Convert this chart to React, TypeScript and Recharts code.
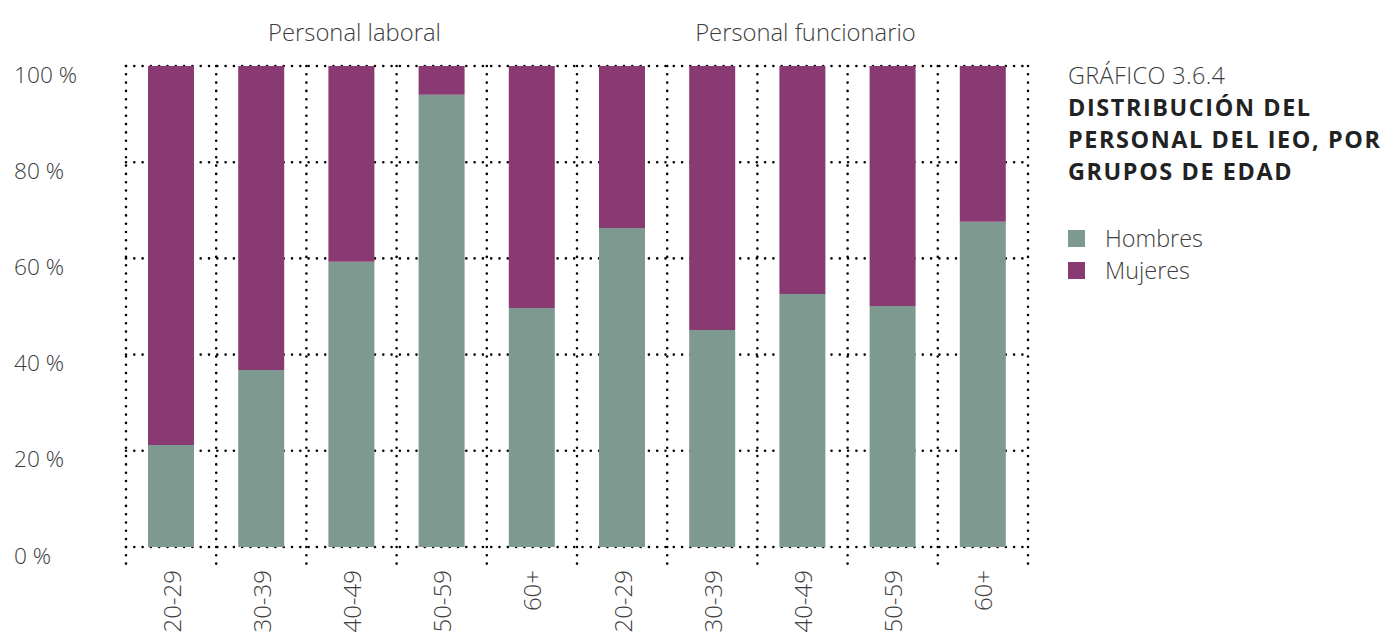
import React from "react";
import { BarChart, Bar, XAxis, YAxis, CartesianGrid } from "recharts";

const categories = ["20-29", "30-39", "40-49", "50-59", "60+", "20-29", "30-39", "40-49", "50-59", "60+"];
const groups = [
  "Personal laboral", "Personal laboral", "Personal laboral", "Personal laboral", "Personal laboral",
  "Personal funcionario", "Personal funcionario", "Personal funcionario", "Personal funcionario", "Personal funcionario",
];
const hombres = [21.2, 36.8, 59.3, 94.0, 49.7, 66.3, 45.1, 52.6, 50.1, 67.6];
const mujeres = [78.8, 63.2, 40.7, 6.0, 50.3, 33.7, 54.9, 47.4, 49.9, 32.4];
const yTicks = [0, 20, 40, 60, 80, 100];
const groupLabelIndex = [2, 7];

const seriesNames = { hombres: "Hombres", mujeres: "Mujeres" };
const COLORS = { hombres: "#7E998F", mujeres: "#893A72" };

const data = categories.map((c, i) => ({
  key: groups[i] + " " + c,
  age: c,
  group: groups[i],
  hombres: hombres[i],
  mujeres: mujeres[i],
}));

const FONT = "'Open Sans', 'DejaVu Sans', sans-serif";
const TEXT = "#3d3d3d";
const DOT = { stroke: "#000", strokeWidth: 2.6, strokeDasharray: "0 8.3", strokeLinecap: "round" as const };

const XTick = (props: any) => {
  const { x, y, payload, index, visibleTicksCount, width } = props;
  const half = payload && payload.offset ? payload.offset : width / (visibleTicksCount || 10) / 2;
  const last = index === categories.length - 1;
  return (
    <g>
      <line x1={x - half} x2={x - half} y1={y} y2={y + 17} {...DOT} />
      {last && <line x1={x + half} x2={x + half} y1={y} y2={y + 17} {...DOT} />}
      <text
        x={x}
        y={y + 23}
        transform={`rotate(-90, ${x}, ${y + 23})`}
        textAnchor="end"
        dominantBaseline="central"
        fontFamily={FONT}
        fontWeight={300}
        fontSize={24}
        fill={TEXT}
      >
        {categories[index]}
      </text>
    </g>
  );
};

const TopTick = (props: any) => {
  const { x, y, index } = props;
  if (!groupLabelIndex.includes(index)) return <g />;
  return (
    <text
      x={x + 3}
      y={y - 34}
      textAnchor="middle"
      dominantBaseline="central"
      fontFamily={FONT}
      fontWeight={300}
      fontSize={23.8}
      fill={TEXT}
    >
      {groups[index]}
    </text>
  );
};

const YTick = (props: any) => {
  const { y, payload } = props;
  return (
    <text
      x={6}
      y={y + 8}
      textAnchor="start"
      dominantBaseline="central"
      fontFamily={FONT}
      fontWeight={300}
      fontSize={22.7}
      fill={TEXT}
    >
      {payload.value} %
    </text>
  );
};

const titleBold = { fontWeight: 700, fontSize: 23.4, letterSpacing: "1.6px", height: 32 };

export default function App() {
  return (
    <div style={{ position: "relative", width: 1375, height: 625 }}>
      <BarChart
        width={1375}
        height={625}
        data={data}
        margin={{ top: 0, right: 355, bottom: 0, left: 0 }}
        barSize={46}
      >
        <CartesianGrid
          {...DOT}
          verticalCoordinatesGenerator={({ offset }: any) =>
            Array.from({ length: categories.length + 1 }, (_, i) => offset.left + (i * offset.width) / categories.length)
          }
        />
        <XAxis
          xAxisId="top"
          orientation="top"
          dataKey="key"
          height={58}
          axisLine={false}
          tickLine={false}
          tickSize={0}
          tickMargin={0}
          interval={0}
          tick={<TopTick />}
        />
        <XAxis
          dataKey="key"
          height={86}
          axisLine={false}
          tickLine={false}
          tickSize={0}
          tickMargin={0}
          interval={0}
          tick={<XTick />}
        />
        <YAxis
          width={118}
          domain={[0, 100]}
          ticks={yTicks}
          axisLine={false}
          tickLine={false}
          tick={<YTick />}
        />
        <Bar dataKey="hombres" stackId="a" fill={COLORS.hombres} isAnimationActive={false} name={seriesNames.hombres} />
        <Bar dataKey="mujeres" stackId="a" fill={COLORS.mujeres} isAnimationActive={false} name={seriesNames.mujeres} />
      </BarChart>
      <div
        style={{
          position: "absolute",
          left: 1060,
          top: 51,
          fontFamily: FONT,
          lineHeight: "32px",
          color: "#222",
          whiteSpace: "nowrap",
        }}
      >
        <div style={{ fontWeight: 300, fontSize: 23.4, letterSpacing: "0.4px", color: TEXT, height: 32 }}>GRÁFICO 3.6.4</div>
        <div style={titleBold}>DISTRIBUCIÓN DEL</div>
        <div style={titleBold}>PERSONAL DEL IEO, POR</div>
        <div style={titleBold}>GRUPOS DE EDAD</div>
      </div>
      <div
        style={{
          position: "absolute",
          left: 1060,
          top: 214,
          fontFamily: FONT,
          fontWeight: 300,
          fontSize: 23.4,
          color: TEXT,
        }}
      >
        {(["hombres", "mujeres"] as const).map((k) => (
          <div key={k} style={{ display: "flex", alignItems: "center", height: 32 }}>
            <span style={{ display: "inline-block", width: 17, height: 17, background: COLORS[k], marginRight: 20 }} />
            <span>{seriesNames[k]}</span>
          </div>
        ))}
      </div>
    </div>
  );
}
